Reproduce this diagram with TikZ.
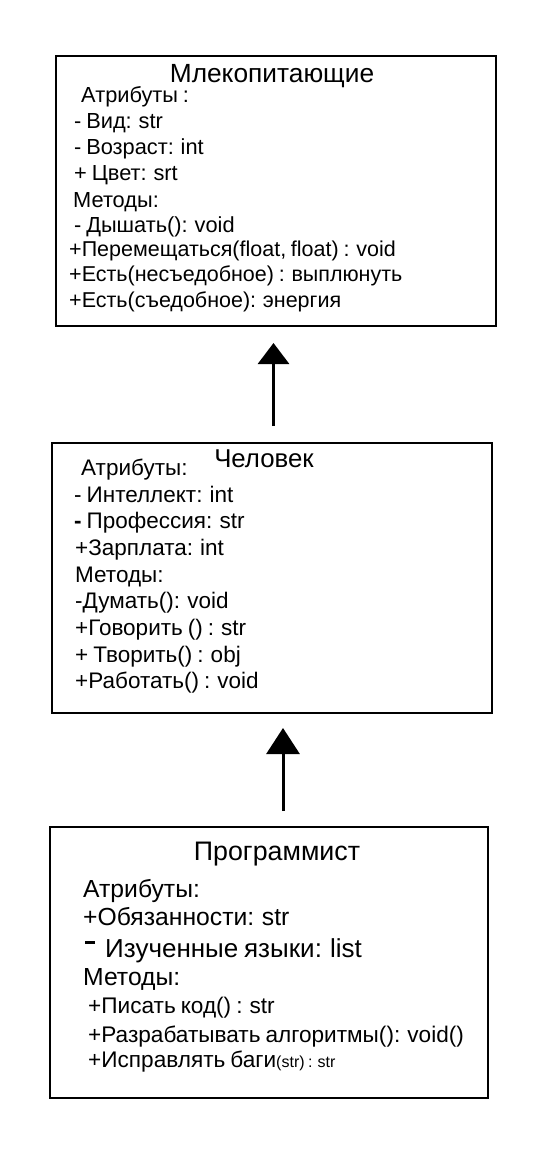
\documentclass[tikz,border=0pt]{standalone}
\usepackage{fontspec}
\setmainfont[WordSpace=0.8]{Liberation Sans}
\usetikzlibrary{arrows.meta}
\newcommand{\fsz}[1]{\fontsize{#1}{#1}\selectfont}
\tikzset{
  umlbox/.style={draw, line width=2pt, inner sep=0pt, minimum width=440pt, minimum height=270pt},
  txt/.style={anchor=base west, inner sep=0pt},
  ttl/.style={anchor=base, inner sep=0pt, font=\fsz{26.3}},
  inh/.style={line width=3pt, -{Triangle[#1]}},
}
\begin{document}
\begin{tikzpicture}[x=1pt,y=-1pt]
\useasboundingbox[fill=white] (0,0) rectangle (540,1154);
% boxes
\node[umlbox] (m) at (276,191) {};
\node[umlbox] (h) at (272,578) {};
\node[umlbox, minimum width=438.5pt, minimum height=271pt] (p) at (268.75,962.5) {};
% Млекопитающие
\node[ttl] (mt) at (272,82) {Млекопитающие};
\begin{scope}[every node/.style={txt, font=\fsz{21.8}}]
\node (m1) at (81,102) {Атрибуты :};
\node (m2) at (74,128) {- Вид: str};
\node (m3) at (74,154) {- Возраст: int};
\node (m4) at (74,180) {+ Цвет: srt};
\node (m5) at (73,207) {Методы:};
\node (m6) at (74,232) {- Дышать(): void};
\end{scope}
\begin{scope}[every node/.style={txt, font=\fsz{21.5}}]
\node (m7) at (69,256) {+Перемещаться(float, float) : void};
\node (m8) at (69,281) {+Есть(несъедобное) : выплюнуть};
\node (m9) at (69,307) {+Есть(съедобное): энергия};
\end{scope}
% Человек
\node[ttl, font=\fsz{25.8}] (ht) at (264,467) {Человек};
\begin{scope}[every node/.style={txt, font=\fsz{22.5}}]
\node (h1) at (81,475) {Атрибуты:};
\node (h2) at (74,502) {- Интеллект: int};
\node (h3) at (74,528) {\textbf{-} Профессия: str};
\node (h4) at (75,555) {+Зарплата: int};
\node (h5) at (75,582) {Методы:};
\node (h6) at (75,608) {-Думать(): void};
\node (h7) at (75,635) {+Говорить () : str};
\node (h8) at (75,662) {+ Творить() : obj};
\node (h9) at (75,688) {+Работать() : void};
\end{scope}
% Программист
\node[ttl, font=\fsz{26.8}] (pt) at (277,860) {Программист};
\begin{scope}[every node/.style={txt, font=\fsz{24.7}}]
\node (p1) at (83,897) {Атрибуты:};
\node (p2) at (83,925) {+Обязанности: str};
\node (p3) at (85,957) {\rule[13pt]{10pt}{2.6pt}\hspace{10pt}{\fsz{26}Изученные языки: list}};
\node (p4) at (83,985) {Методы:};
\end{scope}
\begin{scope}[every node/.style={txt, font=\fsz{22.6}}]
\node (p5) at (88,1013) {+Писать код() : str};
\node (p6) at (88,1042) {+Разрабатывать алгоритмы(): void()};
\node (p7) at (88,1067) {+Исправлять баги{\fsz{16}(str) : str}};
\end{scope}
% inheritance arrows
\draw[inh={length=21pt,width=31pt}] ([xshift=1.5pt,yshift=16pt]h.north) -- ([xshift=-2.5pt,yshift=-16pt]m.south);
\draw[inh={length=26pt,width=33pt}] ([xshift=14.25pt,yshift=15pt]p.north) -- ([xshift=11pt,yshift=-14pt]h.south);
\end{tikzpicture}
\end{document}
